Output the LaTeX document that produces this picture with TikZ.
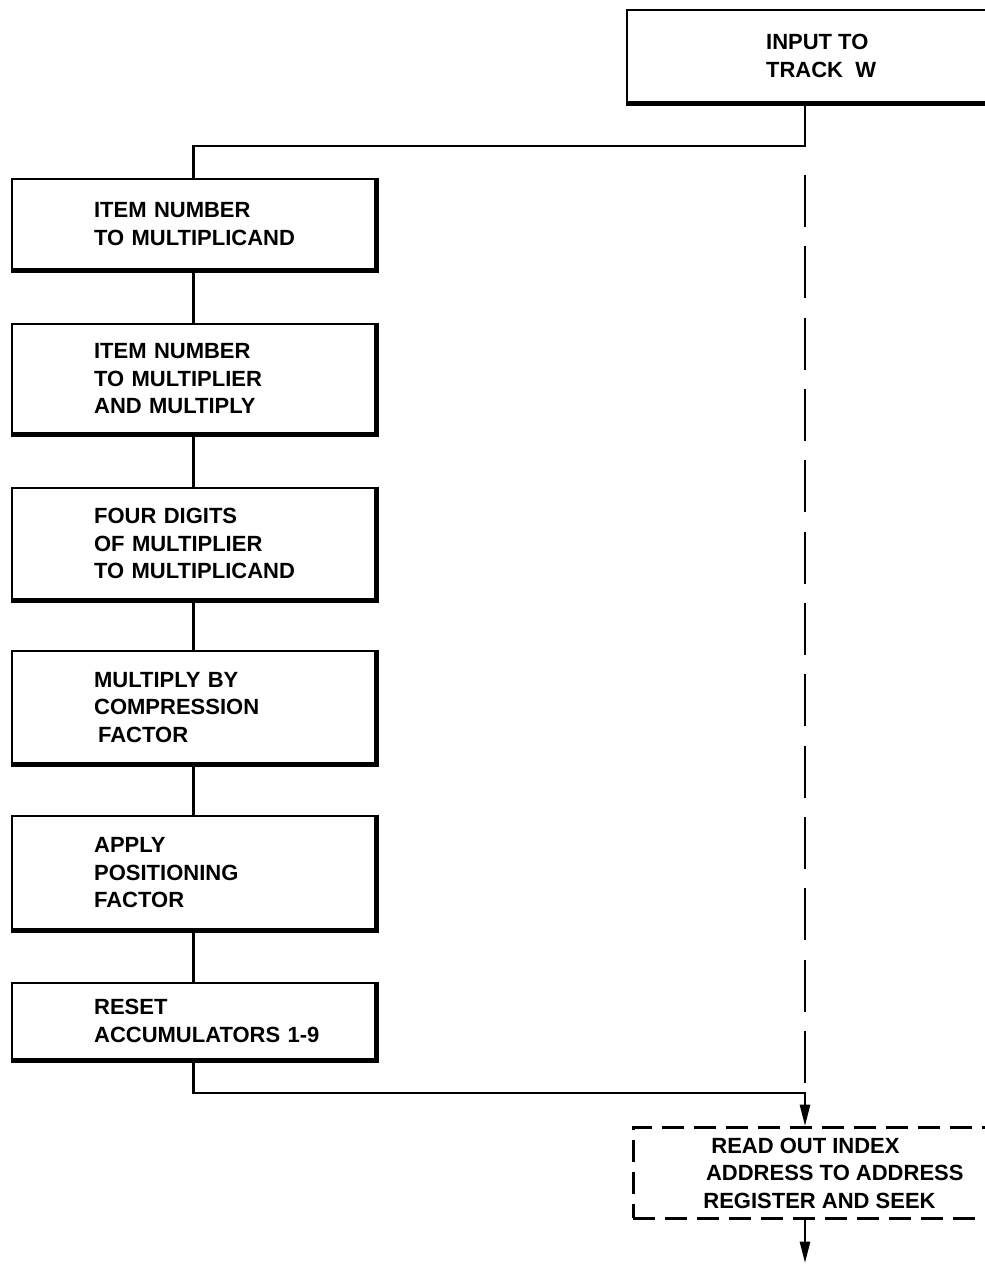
\documentclass[tikz,border=0pt]{standalone}
\usepackage{fontspec}
\setmainfont{Liberation Sans}
\usetikzlibrary{arrows.meta}
\begin{document}
\begin{tikzpicture}[x=0.75pt,y=-0.75pt,
  txt/.style={font=\bfseries\fontsize{16.5}{20.6}\selectfont},
  box/.style={txt, draw, line width=1.7pt, inner xsep=0pt, inner ysep=0pt,
    text width=272.25pt, align=left, anchor=north west},
  topbox/.style={txt, draw, line width=1.7pt, inner sep=0pt,
    minimum width=291pt, minimum height=69pt, align=left, anchor=north west},
  dbox/.style={txt, draw, line width=2.2pt, dash pattern=on 16.5pt off 7.5pt,
    inner sep=0pt, minimum width=297pt, minimum height=68.25pt, align=left, anchor=north west},
  conn/.style={line width=1.9pt},
  dconn/.style={line width=1.9pt, dash pattern=on 39pt off 14.5pt, dash phase=39pt},
  arr/.style={conn, -{Triangle[length=16pt,width=7.5pt]}},
  shade/.style={line width=3pt}
]
\useasboundingbox (0,0) rectangle (985,1264);
\clip (0,0) rectangle (985,1264);

\node[topbox] (top) at (626,9) {INPUT TO\\TRACK\ \ W};

\node[box, minimum height=67.5pt] (b1) at (11,178)
  {\leftskip=61.5pt ITEM NUMBER\\TO MULTIPLICAND\par};
\node[box, minimum height=81.75pt] (b2) at (11,323)
  {\leftskip=61.5pt ITEM NUMBER\\TO MULTIPLIER\\AND MULTIPLY\par};
\node[box, minimum height=83.25pt] (b3) at (11,487)
  {\leftskip=61.5pt FOUR DIGITS\\OF MULTIPLIER\\TO MULTIPLICAND\par};
\node[box, minimum height=84pt] (b4) at (11,650)
  {\leftskip=61.5pt MULTIPLY BY\\COMPRESSION\\\hspace*{3pt}FACTOR\par};
\node[box, minimum height=84.75pt] (b5) at (11,815)
  {\leftskip=61.5pt APPLY\\POSITIONING\\FACTOR\par};
\node[box, minimum height=57pt] (b6) at (11,982)
  {\leftskip=61.5pt RESET\\ACCUMULATORS 1-9\par};

\node[dbox] (rd) at (632,1126)
  {\hspace*{9pt}READ OUT INDEX\\\hspace*{5pt}ADDRESS TO ADDRESS\\\hspace*{3pt}REGISTER AND SEEK};

% heavier right and bottom edges
\foreach \n in {top,b1,b2,b3,b4,b5,b6}
  \draw[shade] ([xshift=0.6pt,yshift=-0.3pt]\n.north east) -- ([xshift=0.6pt,yshift=-0.6pt]\n.south east) -- ([yshift=-0.6pt]\n.south west);

\coordinate (j1) at (805,146);
\coordinate (ds) at (805,155.67);
\coordinate (j2) at (805,1093);
\coordinate (endp) at (805,1263);

\draw[conn] (top.south -| j1) -- (j1) -| (b1.north);
\draw[conn] (b1.south) -- (b2.north);
\draw[conn] (b2.south) -- (b3.north);
\draw[conn] (b3.south) -- (b4.north);
\draw[conn] (b4.south) -- (b5.north);
\draw[conn] (b5.south) -- (b6.north);
\draw[dconn] (ds) -- (j2);
\draw[arr] (b6.south) |- (j2) -- (rd.north -| j2);
\draw[arr] (rd.south -| j2) -- (endp);
\end{tikzpicture}
\end{document}
